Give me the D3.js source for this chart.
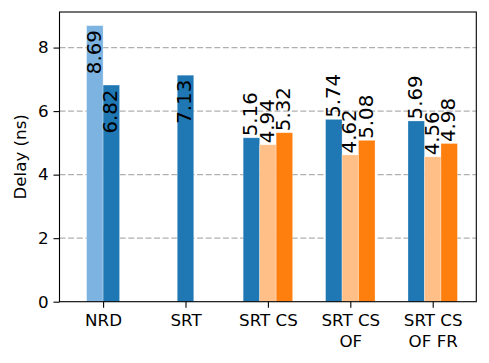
<!DOCTYPE html>
<html>
<head>
<meta charset="utf-8">
<script src="https://cdn.jsdelivr.net/npm/d3@7"></script>
<style>
  html, body { margin: 0; padding: 0; background: #fff; }
  svg text { font-family: "DejaVu Sans", sans-serif; }
</style>
</head>
<body>
<svg id="chart" width="489" height="363"></svg>
<script>
// ---- data ----
const categories = ["NRD", "SRT", "SRT CS", "SRT CS\nOF", "SRT CS\nOF FR"];
const seriesKeys = ["lightBlue", "blue", "lightOrange", "orange"];
const lightBlue   = [8.69, null, null, null, null];
const blue        = [6.82, 7.13, 5.16, 5.74, 5.69];
const lightOrange = [null, null, 4.94, 4.62, 4.56];
const orange      = [null, null, 5.32, 5.08, 4.98];
const yTicks = [0, 2, 4, 6, 8];
const yLabel = "Delay (ns)";

const seriesValues = { lightBlue, blue, lightOrange, orange };
const colors = { lightBlue: "#7cb3e0", blue: "#1f77b4", lightOrange: "#ffbf86", orange: "#ff7f0e" };

// ---- layout ----
const W = 489, H = 363;
const L = 59.5, R = 476.3, T = 12, B = 301.7;
const fs = 16.7;
const fsVal = 19.8;

const svg = d3.select("#chart");

const x = d3.scalePoint().domain(categories).range([L, R]).padding(0.529);
const bw = x.step() * 0.2;
const y = d3.scaleLinear().domain([0, 9.12]).range([B, T]);

// grid
svg.append("g").selectAll("line").data(yTicks.filter(d => d > 0)).join("line")
  .attr("x1", L).attr("x2", R)
  .attr("y1", d => y(d)).attr("y2", d => y(d))
  .attr("stroke", "#b0b0b0").attr("stroke-width", 1.1)
  .attr("stroke-dasharray", "6,2.6");

// bars
const bars = [];
categories.forEach((c, i) => {
  const present = seriesKeys.filter(k => seriesValues[k][i] != null);
  present.forEach((k, j) => {
    const off = (j - (present.length - 1) / 2) * bw;
    bars.push({ cat: c, key: k, value: seriesValues[k][i], cx: x(c) + off });
  });
});

svg.append("g").selectAll("rect").data(bars).join("rect")
  .attr("x", d => d.cx - bw / 2)
  .attr("width", bw)
  .attr("y", d => y(d.value))
  .attr("height", d => y(0) - y(d.value))
  .attr("fill", d => colors[d.key])
  .attr("stroke", "#ffffff").attr("stroke-opacity", 0.35).attr("stroke-width", 0.8);

// value labels
svg.append("g").selectAll("text").data(bars).join("text")
  .attr("transform", d => {
    const inside = d.value > 6;
    const yy = inside ? y(d.value) + 4.5 : y(d.value) - 1.5;
    return `translate(${d.cx},${yy}) rotate(-90)`;
  })
  .attr("text-anchor", d => d.value > 6 ? "end" : "start")
  .attr("dy", "0.3em")
  .attr("font-size", fsVal)
  .attr("fill", "#000")
  .text(d => d.value.toFixed(2));

// frame
svg.append("rect").attr("x", L).attr("y", T).attr("width", R - L).attr("height", B - T)
  .attr("fill", "none").attr("stroke", "#000").attr("stroke-width", 1.1);

// y axis
const yAxis = d3.axisLeft(y).tickValues(yTicks).tickSize(6).tickPadding(5).tickFormat(d3.format("d"));
const gy = svg.append("g").attr("transform", `translate(${L},0)`).call(yAxis);
gy.select(".domain").remove();
gy.selectAll("line").attr("stroke", "#000").attr("stroke-width", 1.1);
gy.selectAll("text").attr("font-size", fs).attr("font-family", "DejaVu Sans").attr("fill", "#000");

// x axis
const xAxis = d3.axisBottom(x).tickSize(6).tickPadding(5).tickFormat("");
const gx = svg.append("g").attr("transform", `translate(0,${B})`).call(xAxis);
gx.select(".domain").remove();
gx.selectAll("line").attr("stroke", "#000").attr("stroke-width", 1.1);
gx.selectAll(".tick").each(function(d) {
  const lines = d.split("\n");
  const t = d3.select(this).append("text")
    .attr("text-anchor", "middle").attr("font-size", fs)
    .attr("font-family", "DejaVu Sans").attr("fill", "#000");
  lines.forEach((ln, k) => {
    t.append("tspan").attr("x", 0).attr("y", 24.3 + k * 20.7).text(ln);
  });
});

// y label
svg.append("text")
  .attr("transform", `translate(25.5,${(T + B) / 2}) rotate(-90)`)
  .attr("text-anchor", "middle").attr("font-size", fs).attr("fill", "#000")
  .text(yLabel);
</script>
</body>
</html>
